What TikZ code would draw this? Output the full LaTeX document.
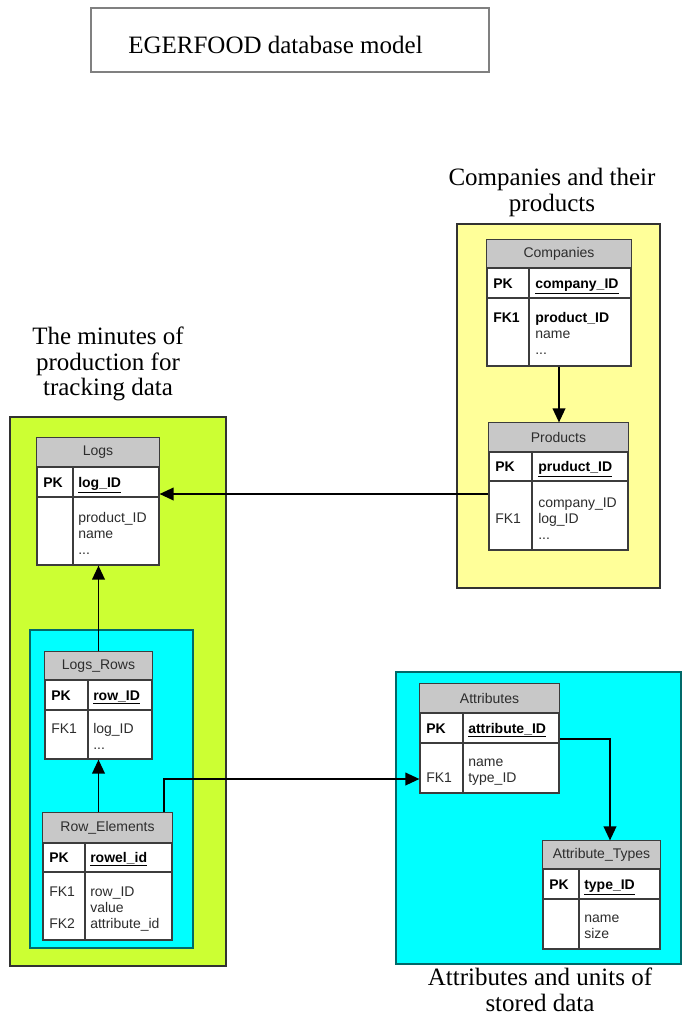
\documentclass[tikz,border=0pt]{standalone}
\usepackage{fontspec}
\setmainfont{Liberation Serif}
\setsansfont{Liberation Sans}
\usetikzlibrary{arrows.meta,fit,calc}
\definecolor{limefill}{RGB}{204,255,51}
\definecolor{yelfill}{RGB}{255,255,153}
\definecolor{cyanfill}{RGB}{0,255,255}
\definecolor{hdrgray}{RGB}{200,200,200}
\definecolor{tblline}{RGB}{60,60,60}
\definecolor{txtgray}{RGB}{45,45,45}
\definecolor{tealline}{RGB}{0,105,105}
\definecolor{regline}{RGB}{50,50,50}

\tikzset{
  regionbox/.style={draw=regline, line width=0.8pt, inner sep=0pt},
  tblbox/.style={draw=tblline, fill=white, line width=0.9pt, inner sep=0pt},
  tblrule/.style={draw=tblline, line width=0.9pt},
  tbltxt/.style={font=\sffamily\fontsize{10.5}{12}\selectfont, text=txtgray, inner sep=0pt},
  bodytxt/.style={tbltxt, anchor=base west, align=left},
  pktxt/.style={tbltxt, anchor=base west, font=\sffamily\bfseries\fontsize{10.5}{12}\selectfont, text=black},
  lbl/.style={font=\fontsize{18.75}{19}\selectfont, align=center, inner sep=0pt, anchor=base},
  conn/.style={draw=black, line width=1.2pt, -{Triangle[length=10.5pt,width=9.5pt]}}
}

% #1 name, #2 left, #3 top, #4 right, #5 header bottom, #6 pk bottom, #7 bottom, #8 column x, #9 title
\newcommand{\dbtable}[9]{%
  \node[tblbox, fit={(#2,#3) (#4,#7)}] (#1) {};
  \fill[hdrgray] (#2,#3) rectangle (#4,#5);
  \draw[tblrule] (#2,#5) -- (#4,#5);
  \draw[tblrule] (#2,#6) -- (#4,#6);
  \draw[tblrule] (#8,#5) -- (#8,#7);
  \draw[tblrule] (#1.north west) rectangle (#1.south east);
  \node[tbltxt] (#1-title) at ($(#2,#3)!0.5!(#4,#5)$) {#9};
}

\begin{document}
\begin{tikzpicture}[x=0.75pt,y=-0.75pt]
\useasboundingbox (0,0) rectangle (683,1017);
\fill[white] (0,0) rectangle (683,1017);

% title
\node[draw=gray, line width=0.8pt, fill=white, inner sep=0pt, fit={(91,8) (489,72)}] (titlebox) {};
\node[lbl] (title) at (275.5,53) {EGERFOOD database model};

% region boxes
\node[regionbox, fill=limefill, fit={(10,417) (226,966)}] (greenreg) {};
\node[regionbox, draw=tealline, fill=cyanfill, fit={(30,630) (193,948)}] (cyanleft) {};
\node[regionbox, fill=yelfill, fit={(457,224) (660,588)}] (yelreg) {};
\node[regionbox, draw=tealline, fill=cyanfill, fit={(396,672) (681,964)}] (cyanright) {};

% labels (base anchor = baseline of the last line)
\node[lbl] (lblcomp) at (552,211) {Companies and their\\products};
\node[lbl] (lbllogs) at (108,395.5) {The minutes of\\production for\\tracking data};
\node[lbl] (lblattr) at (540,1011) {Attributes and units of\\stored data};

% tables
\dbtable{logs}{37}{438}{159}{467}{497}{565}{73}{Logs}
\node[pktxt] (logs-pk) at (43,487) {PK};
\node[pktxt] (logs-key) at (78,487) {\underline{log\_ID}};
\node[bodytxt] (logs-body) at (78,554) {product\_ID\\name\\...};

\dbtable{logsrows}{45}{652}{152}{680}{710}{759}{88}{Logs\_Rows}
\node[pktxt] (logsrows-pk) at (51,700) {PK};
\node[pktxt] (logsrows-key) at (93,700) {\underline{row\_ID}};
\node[bodytxt] (logsrows-fk) at (51,733) {FK1};
\node[bodytxt] (logsrows-body) at (93,749) {log\_ID\\...};

\dbtable{rowel}{43}{813}{172}{843}{872}{940}{85}{Row\_Elements}
\node[pktxt] (rowel-pk) at (49,862) {PK};
\node[pktxt] (rowel-key) at (90,862) {\underline{rowel\_id}};
\node[bodytxt] (rowel-fk1) at (49,896) {FK1};
\node[bodytxt] (rowel-fk2) at (49,928) {FK2};
\node[bodytxt] (rowel-body) at (90,928) {row\_ID\\value\\attribute\_id};

\dbtable{companies}{487}{240}{631}{268}{298}{366}{529}{Companies}
\node[pktxt] (companies-pk) at (493,288) {PK};
\node[pktxt] (companies-key) at (535,288) {\underline{company\_ID}};
\node[pktxt] (companies-fk) at (493,322) {FK1};
\node[bodytxt] (companies-body) at (535,354) {\textbf{\textcolor{black}{product\_ID}}\\name\\...};

\dbtable{products}{489}{423}{628}{452}{481}{550}{532}{Products}
\node[pktxt] (products-pk) at (495,471) {PK};
\node[pktxt] (products-key) at (538,471) {\underline{pruduct\_ID}};
\node[bodytxt] (products-fk) at (495,523) {FK1};
\node[bodytxt] (products-body) at (538,539) {company\_ID\\log\_ID\\...};

\dbtable{attributes}{420}{684}{559}{713}{743}{793}{463}{Attributes}
\node[pktxt] (attributes-pk) at (426,733) {PK};
\node[pktxt] (attributes-key) at (468,733) {\underline{attribute\_ID}};
\node[bodytxt] (attributes-fk) at (426,782) {FK1};
\node[bodytxt] (attributes-body) at (468,782) {name\\type\_ID};

\dbtable{attrtypes}{543}{841}{660}{869}{899}{949}{579}{Attribute\_Types}
\node[pktxt] (attrtypes-pk) at (549,889) {PK};
\node[pktxt] (attrtypes-key) at (584,889) {\underline{type\_ID}};
\node[bodytxt] (attrtypes-body) at (584,938) {name\\size};

% connectors
\draw[conn] (logsrows.north) -- (logsrows.north |- logs.south);
\draw[conn] (rowel.north -| logsrows.south) -- (logsrows.south);
\draw[conn] (companies.south) -- (companies.south |- products.north);
\coordinate (pl) at (489,494);
\draw[conn] (products.west |- pl) -- (pl -| logs.east);
\coordinate (rb) at (164,779);
\draw[conn] (rb |- rowel.north) -- (rb) -- (rb -| attributes.west);
\coordinate (ab) at (610,739);
\draw[conn] (ab -| attributes.east) -- (ab) -- (ab |- attrtypes.north);
\end{tikzpicture}
\end{document}
